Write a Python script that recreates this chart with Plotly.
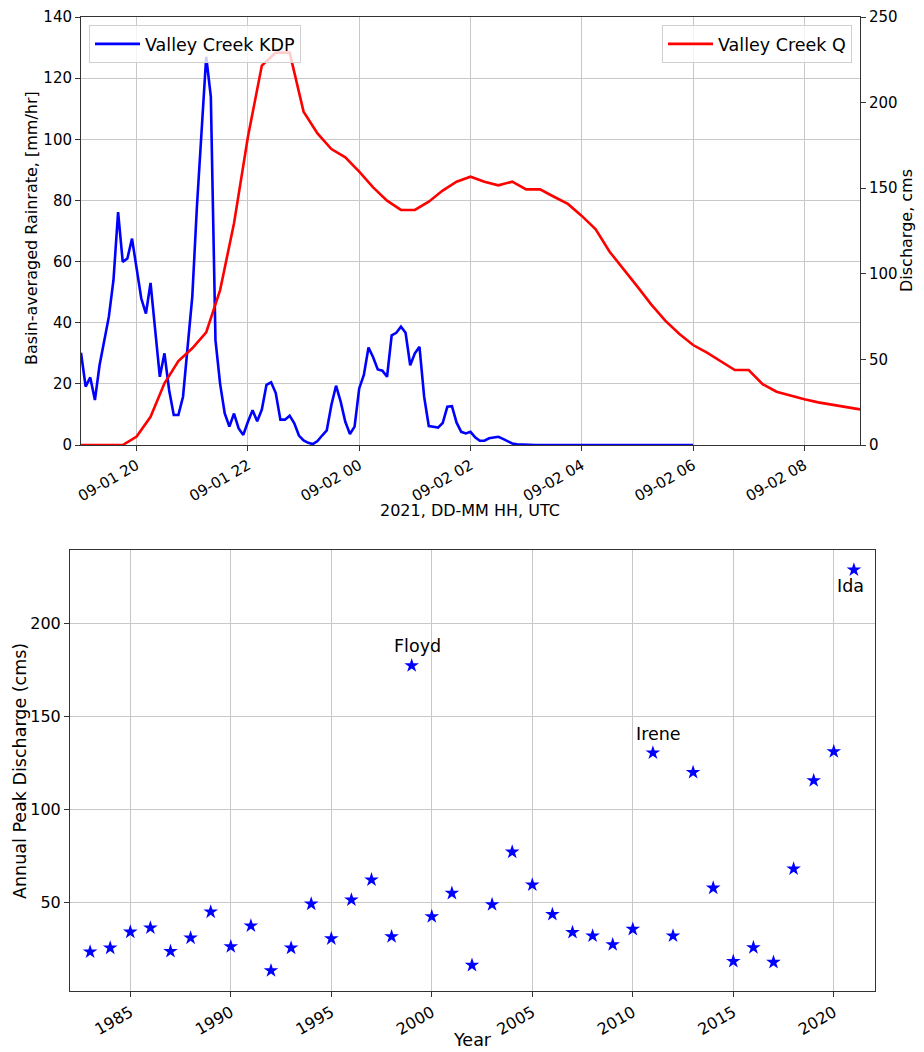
import pandas as pd
import plotly.graph_objects as go

# ---------------- data: top panel ----------------
kdp_times = pd.date_range("2021-09-01 19:00", "2021-09-02 06:00", freq="5min")
kdp_rain = [
    30.2, 19.1, 22.1, 14.7, 26.1, 34.3, 41.9, 53.9, 76.2, 59.9, 61.0, 67.5,   # 19h
    58.3, 47.9, 43.0, 53.0, 37.6, 22.3, 30.0, 18.0, 9.8, 9.8, 15.8, 31.0,     # 20h
    48.5, 78.0, 103.0, 127.0, 114.0, 34.3, 20.0, 10.3, 6.0, 10.3, 5.4, 3.3,   # 21h
    7.6, 11.4, 7.8, 11.6, 19.7, 20.5, 17.0, 8.3, 8.3, 9.6, 7.1, 3.1,          # 22h
    1.5, 0.7, 0.3, 1.3, 3.1, 4.8, 13.1, 19.4, 14.2, 7.6, 3.6, 6.0,            # 23h
    18.5, 22.9, 31.9, 28.7, 24.7, 24.3, 22.3, 35.9, 36.7, 38.7, 36.7, 26.1,   # 00h
    30.0, 32.1, 15.8, 6.2, 6.0, 5.7, 7.2, 12.5, 12.7, 7.3, 4.3, 3.8,          # 01h
    4.3, 2.5, 1.4, 1.4, 2.2, 2.4, 2.7, 2.0, 1.2, 0.5, 0.2, 0.1,               # 02h
    0.1, 0.1, 0.0, 0.0, 0.0, 0.0, 0.0, 0.0, 0.0, 0.0, 0.0, 0.0,               # 03h
    0.0, 0.0, 0.0, 0.0, 0.0, 0.0, 0.0, 0.0, 0.0, 0.0, 0.0, 0.0,               # 04h
    0.0, 0.0, 0.0, 0.0, 0.0, 0.0, 0.0, 0.0, 0.0, 0.0, 0.0, 0.0,               # 05h
    0.0,                                                                      # 06:00
]

q_times = pd.date_range("2021-09-01 19:00", "2021-09-02 09:00", freq="15min")
q_discharge = [
    0.0, 0.0, 0.0, 0.0,          # 19h
    4.9, 16.5, 36.0, 49.0,       # 20h
    56.5, 65.8, 90.5, 129.5,     # 21h
    180.0, 221.6, 229.2, 229.2,  # 22h
    194.7, 182.0, 172.9, 168.0,  # 23h
    159.7, 150.5, 142.7, 137.3,  # 00h
    137.3, 142.1, 148.6, 153.8,  # 01h
    156.7, 153.8, 151.7, 153.8,  # 02h
    149.3, 149.3, 145.0, 140.8,  # 03h
    133.8, 126.0, 112.9, 103.0,  # 04h
    92.5, 82.0, 72.6, 65.0,      # 05h
    58.4, 53.9, 48.7, 43.8,      # 06h
    43.8, 35.5, 31.1, 28.8,      # 07h
    26.7, 24.9, 23.4, 22.0,      # 08h
    20.8,                        # 09:00
]

# ---------------- data: bottom panel ----------------
years = [1983, 1984, 1985, 1986, 1987, 1988, 1989, 1990, 1991, 1992,
         1993, 1994, 1995, 1996, 1997, 1998, 1999, 2000, 2001, 2002,
         2003, 2004, 2005, 2006, 2007, 2008, 2009, 2010, 2011, 2012,
         2013, 2014, 2015, 2016, 2017, 2018, 2019, 2020, 2021]
peak_q = [23.3, 25.4, 34.0, 36.2, 23.6, 30.8, 44.8, 26.1, 37.3, 13.2,
          25.4, 49.1, 30.4, 51.3, 62.1, 31.5, 177.5, 42.3, 54.9, 16.1,
          48.8, 77.1, 59.4, 43.5, 33.8, 31.9, 27.2, 35.5, 130.5, 31.9,
          120.0, 57.7, 18.2, 25.6, 17.7, 68.0, 115.6, 131.2, 229.1]
storm_names = ["Floyd", "Irene", "Ida"]
storm_label_x = [1998.0, 2010.05, 2020.08]
storm_label_y = [188.0, 140.5, 220.5]

# ---------------- figure ----------------
W, H = 924, 1052
FONT = "DejaVu Sans"
GRID = "#c8c8c8"
SPINE = "#333333"


def px(xp):
    return xp / W


def py(yp):
    return 1 - yp / H


fig = go.Figure()

fig.add_trace(go.Scatter(x=kdp_times, y=kdp_rain, mode="lines",
                         line=dict(color="#0000ff", width=2.6),
                         name="Valley Creek KDP", xaxis="x", yaxis="y",
                         legend="legend"))
fig.add_trace(go.Scatter(x=q_times, y=q_discharge, mode="lines",
                         line=dict(color="#ff0000", width=2.6),
                         name="Valley Creek Q", xaxis="x", yaxis="y2",
                         legend="legend2"))
fig.add_trace(go.Scatter(x=years, y=peak_q, mode="markers",
                         marker=dict(symbol="star", size=11, color="#0000ff",
                                     line=dict(width=0)),
                         showlegend=False, xaxis="x2", yaxis="y3"))

common_ax = dict(showline=True, linecolor=SPINE, linewidth=1, mirror=True,
                 ticks="outside", ticklen=5, tickcolor=SPINE, tickwidth=1,
                 gridcolor=GRID, gridwidth=1, zeroline=False, automargin=False)

top_dom = [py(445), py(17)]
bot_dom = [py(991), py(550)]

fig.update_layout(
    width=W, height=H,
    margin=dict(l=0, r=0, t=0, b=0),
    paper_bgcolor="white", plot_bgcolor="white",
    font=dict(family=FONT, color="black", size=15),
    xaxis=dict(domain=[px(81), px(860)], anchor="y", type="date",
               range=["2021-09-01 19:00", "2021-09-02 09:00"],
               tick0="2021-09-01 20:00", dtick=7200000,
               tickformat="%m-%d %H", tickangle=-30,
               tickfont=dict(size=15), showgrid=True, **common_ax),
    yaxis=dict(domain=top_dom, anchor="x", range=[0, 140], dtick=20,
               tickfont=dict(size=15), showgrid=True, **common_ax),
    yaxis2=dict(domain=top_dom, anchor="x", overlaying="y", side="right",
                range=[0, 250], dtick=50, tickfont=dict(size=15),
                showgrid=False, showline=True, linecolor=SPINE, linewidth=1,
                ticks="outside", ticklen=5, tickcolor=SPINE, zeroline=False,
                automargin=False),
    xaxis2=dict(domain=[px(70), px(875)], anchor="y3",
                range=[1982.0, 2022.05], tickmode="array",
                tickvals=[1985, 1990, 1995, 2000, 2005, 2010, 2015, 2020],
                tickangle=-30, tickfont=dict(size=16), showgrid=True,
                **common_ax),
    yaxis3=dict(domain=bot_dom, anchor="x2", range=[2.2, 239.8],
                tickmode="array", tickvals=[50, 100, 150, 200],
                tickfont=dict(size=16), showgrid=True, **common_ax),
    legend=dict(x=px(89), y=py(25), xanchor="left", yanchor="top",
                bgcolor="rgba(255,255,255,0.8)", bordercolor="#d0d0d0",
                borderwidth=1, font=dict(size=17.5), itemwidth=45),
    legend2=dict(x=px(852), y=py(25), xanchor="right", yanchor="top",
                 bgcolor="rgba(255,255,255,0.8)", bordercolor="#d0d0d0",
                 borderwidth=1, font=dict(size=17.5), itemwidth=45),
)

annotations = [
    dict(text="Basin-averaged Rainrate, [mm/hr]", x=px(32), y=py(228),
         xref="paper", yref="paper", showarrow=False, textangle=-90,
         font=dict(size=16), xanchor="center", yanchor="middle"),
    dict(text="Discharge, cms", x=px(907), y=py(231),
         xref="paper", yref="paper", showarrow=False, textangle=-90,
         font=dict(size=16), xanchor="center", yanchor="middle"),
    dict(text="2021, DD-MM HH, UTC", x=px(470), y=py(510),
         xref="paper", yref="paper", showarrow=False,
         font=dict(size=16), xanchor="center", yanchor="middle"),
    dict(text="Annual Peak Discharge (cms)", x=px(20), y=py(771),
         xref="paper", yref="paper", showarrow=False, textangle=-90,
         font=dict(size=17.5), xanchor="center", yanchor="middle"),
    dict(text="Year", x=px(472), y=py(1040),
         xref="paper", yref="paper", showarrow=False,
         font=dict(size=17.5), xanchor="center", yanchor="middle"),
]
for name, lx, ly in zip(storm_names, storm_label_x, storm_label_y):
    annotations.append(dict(text=name, x=lx, y=ly, xref="x2", yref="y3",
                            showarrow=False, font=dict(size=17.5),
                            xanchor="left", yanchor="middle"))
fig.update_layout(annotations=annotations)

fig.write_html("out.html",
               config={"displayModeBar": False},
               post_script="document.body.style.margin='0';"
                           "document.body.style.overflow='hidden';")
